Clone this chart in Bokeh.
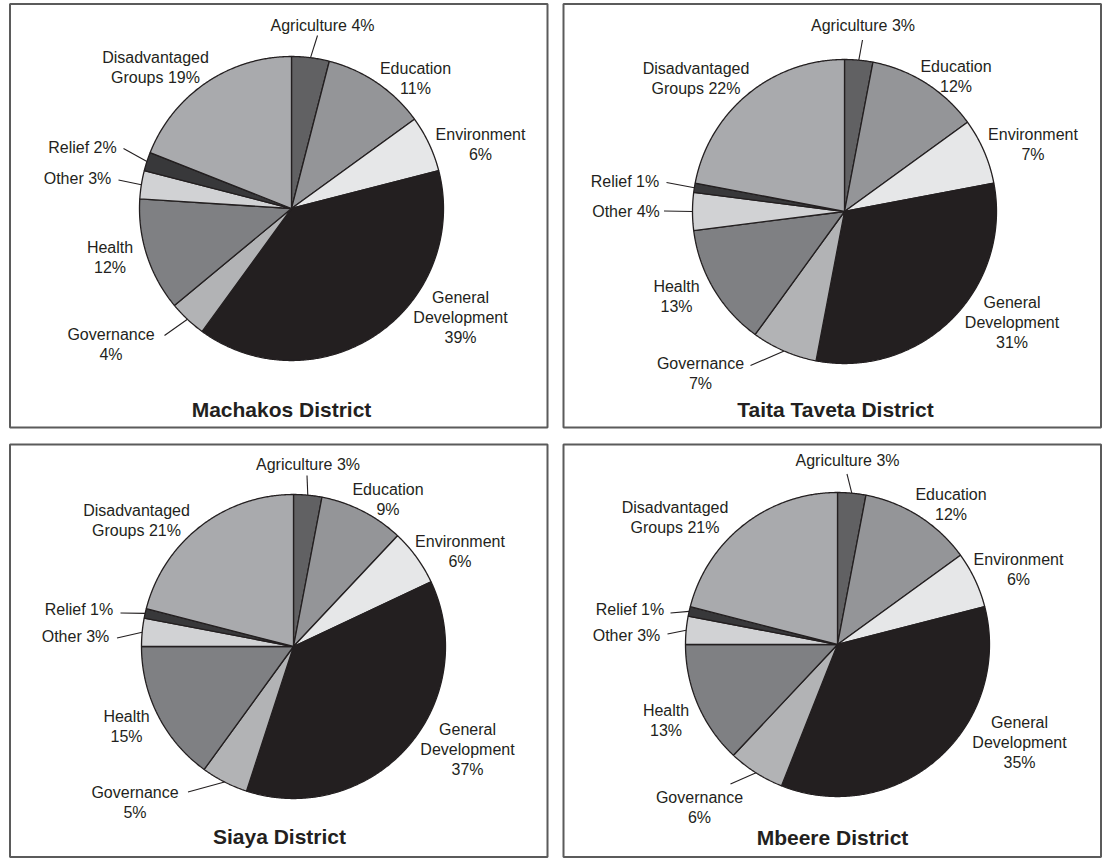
import math

from bokeh.core.properties import value
from bokeh.embed import file_html
from bokeh.models import ColumnDataSource, Range1d
from bokeh.plotting import figure
from bokeh.resources import INLINE

# ---- data -------------------------------------------------------------
categories = ["Agriculture", "Education", "Environment", "General Development",
              "Governance", "Health", "Other", "Relief", "Disadvantaged Groups"]
districts = ["Machakos District", "Taita Taveta District", "Siaya District", "Mbeere District"]

machakos = [4, 11, 6, 39, 4, 12, 3, 2, 19]
taita_taveta = [3, 12, 7, 31, 7, 13, 4, 1, 22]
siaya = [3, 9, 6, 37, 5, 15, 3, 1, 21]
mbeere = [3, 12, 6, 35, 6, 13, 3, 1, 21]

shares = [machakos, taita_taveta, siaya, mbeere]

# ---- styling ----------------------------------------------------------
slice_colors = ["#616163", "#949598", "#e6e7e8", "#231f20", "#b2b3b5",
                "#7f8083", "#d1d2d4", "#38383a", "#a9aaad"]
ink = "#231f20"
font = value("Liberation Sans")

# label layout: how each category's label is broken into lines
def label_lines(cat, v):
    pct = f"{v}%"
    if cat == "Agriculture":
        return [f"Agriculture {pct}"]
    if cat == "Other":
        return [f"Other {pct}"]
    if cat == "Relief":
        return [f"Relief {pct}"]
    if cat == "General Development":
        return ["General", "Development", pct]
    if cat == "Disadvantaged Groups":
        return ["Disadvantaged", f"Groups {pct}"]
    return [cat, pct]

# panel geometry in page pixels (y grows downward)
panels = [
    dict(box=(9.5, 3.5, 547, 427), center=(291, 208), title=(281, 409)),
    dict(box=(563, 3.5, 1100.5, 427), center=(844, 211), title=(835, 409)),
    dict(box=(9.5, 444, 547, 856.5), center=(293, 646), title=(279, 836)),
    dict(box=(563, 444, 1100.5, 856.5), center=(837, 644), title=(832, 836.5)),
]
radius = 152

# label block centres per panel, in category order
label_pos = [
    [(322, 25), (415, 78), (480, 143.5), (460, 316.5), (110.5, 344),
     (109.5, 256.5), (77, 177.5), (82, 147), (155, 66.5)],
    [(862.5, 25), (955.5, 76), (1032.5, 144), (1011.5, 321.5), (700, 373),
     (676, 296), (625.5, 210.5), (624.5, 181), (695.5, 77.5)],
    [(307.5, 463.5), (387.5, 498.5), (459.5, 550.5), (467, 749), (134.5, 801.5),
     (126, 726), (75, 636), (78.5, 609), (136, 520)],
    [(847, 460), (950.5, 504), (1018, 569), (1019, 741.5), (699, 806.5),
     (665.5, 719.5), (626, 635), (629.5, 609), (674.5, 517)],
]

# leader line start points (label side); the other end sits on the pie rim
leader_start = [
    {"Agriculture": (317, 35), "Governance": (164, 335), "Other": (118, 179.5),
     "Relief": (123, 148)},
    {"Agriculture": (862, 39.5), "Governance": (750, 365), "Other": (663.5, 210.5),
     "Relief": (666, 182)},
    {"Agriculture": (306.5, 475), "Governance": (187.5, 791.5), "Other": (116.5, 637.5),
     "Relief": (120, 612.5)},
    {"Agriculture": (846.5, 473.5), "Governance": (730, 783.5), "Other": (667, 633.5),
     "Relief": (670, 612.5)},
]

line_height = 20

p = figure(width=1102, height=859, x_range=Range1d(0, 1102), y_range=Range1d(859, 0),
           x_axis_type=None, y_axis_type=None, output_backend="svg",
           toolbar_location=None, min_border=0)
p.grid.visible = False
p.outline_line_color = None
p.background_fill_color = "white"
p.border_fill_color = "white"

# panel frames
p.quad(left=[b["box"][0] for b in panels], right=[b["box"][2] for b in panels],
       top=[b["box"][1] for b in panels], bottom=[b["box"][3] for b in panels],
       fill_color=None, line_color="#5b5b5b", line_width=2)

wx, wy, wc = [], [], []
tx, ty, tt = [], [], []
sx0, sy0, sx1, sy1 = [], [], [], []

for k, vals in enumerate(shares):
    cx, cy = panels[k]["center"]
    total = float(sum(vals))
    start = 0.0
    for i, v in enumerate(vals):
        frac0 = start / total
        frac1 = (start + v) / total
        # slice outline, clockwise from 12 o'clock
        n = max(4, int(v * 8))
        xs, ys = [cx], [cy]
        for j in range(n + 1):
            a = 2 * math.pi * (frac0 + (frac1 - frac0) * j / n)
            xs.append(cx + radius * math.sin(a))
            ys.append(cy - radius * math.cos(a))
        wx.append(xs)
        wy.append(ys)
        wc.append(slice_colors[i])

        cat = categories[i]
        lines = label_lines(cat, v)
        lx, ly = label_pos[k][i]
        y0 = ly - (len(lines) - 1) * line_height / 2
        for m, s in enumerate(lines):
            tx.append(lx)
            ty.append(y0 + m * line_height)
            tt.append(s)

        if cat in leader_start[k]:
            mid = 2 * math.pi * (frac0 + frac1) / 2
            ax, ay = leader_start[k][cat]
            sx0.append(ax)
            sy0.append(ay)
            sx1.append(cx + radius * math.sin(mid))
            sy1.append(cy - radius * math.cos(mid))
        start += v

p.patches(xs="xs", ys="ys", fill_color="color", line_color=ink, line_width=1.3,
          source=ColumnDataSource(dict(xs=wx, ys=wy, color=wc)))

p.segment(x0=sx0, y0=sy0, x1=sx1, y1=sy1, line_color=ink, line_width=1.1)

p.text(x=tx, y=ty, text=tt, text_font=font, text_font_size="16px",
       text_align="center", text_baseline="middle", text_color=ink)

p.text(x=[b["title"][0] for b in panels], y=[b["title"][1] for b in panels],
       text=districts, text_font=font, text_font_size="21px", text_font_style="bold",
       text_align="center", text_baseline="middle", text_color=ink)

open("out.html", "w").write(file_html(p, INLINE))
